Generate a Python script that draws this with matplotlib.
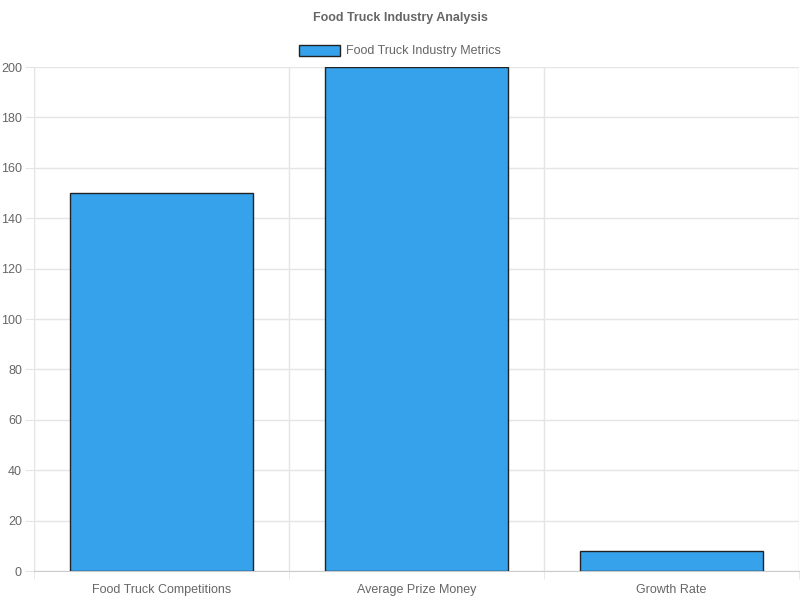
import matplotlib.pyplot as plt
import numpy as np
from matplotlib.patches import Patch

plt.rcParams['font.family'] = ['Liberation Sans', 'DejaVu Sans']

categories = ["Food Truck Competitions", "Average Prize Money", "Growth Rate"]
values = [150, 200, 8]
series_name = "Food Truck Industry Metrics"

grid_col = "#e5e5e5"
text_col = "#666666"
bar_col = "#36a2eb"

fig = plt.figure(figsize=(8, 6), dpi=100)
ax = fig.add_axes([34/800, 29/600, 765/800, 504/600])

x = np.arange(len(categories))
ax.bar(x, values, width=0.72, color=bar_col, edgecolor="#222222", linewidth=1, zorder=3)

ax.set_xlim(-0.5, len(categories) - 0.5)
ax.set_ylim(0, 200)
ax.set_yticks(np.arange(0, 201, 20))
ax.set_xticks(x, categories)
ax.set_xticks(np.arange(-0.5, len(categories)), minor=True)

ax.grid(axis="y", color=grid_col, linewidth=1, zorder=0)
ax.grid(axis="x", which="minor", color=grid_col, linewidth=1, zorder=0)
ax.tick_params(axis="x", which="major", length=0, pad=9.5, labelsize=9, labelcolor=text_col)
ax.tick_params(axis="x", which="minor", length=5.8, color=grid_col)
ax.tick_params(axis="y", length=6.5, color=grid_col, pad=2.2, labelsize=9, labelcolor=text_col)

for s in ["top", "right"]:
    ax.spines[s].set_visible(False)
ax.spines["left"].set_color(grid_col)
ax.spines["bottom"].set_color("#cccccc")

fig.text(0.5, 1 - 18.5/600, "Food Truck Industry Analysis", ha="center", va="center",
         fontsize=9, fontweight="bold", color=text_col)
handle = Patch(facecolor=bar_col, edgecolor="#222222", linewidth=1)
fig.legend([handle], [series_name], loc="center", bbox_to_anchor=(0.5, 1 - 51/600),
           frameon=False, fontsize=9, labelcolor=text_col, handlelength=3.3,
           handleheight=1.0, handletextpad=0.5)

fig.savefig("out.png", dpi=100)
